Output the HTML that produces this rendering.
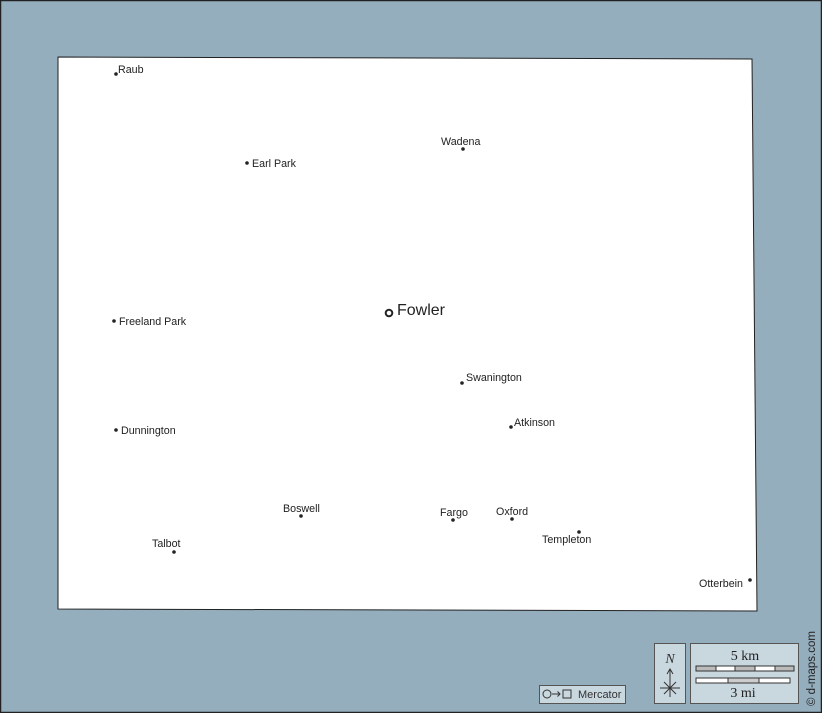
<!DOCTYPE html>
<html><head><meta charset="utf-8"><style>
html,body{margin:0;padding:0;}
body{width:822px;height:713px;overflow:hidden;background:#94aebd;}
svg{display:block;font-family:"Liberation Sans",Arial,sans-serif;}
</style></head><body>
<svg width="822" height="713" viewBox="0 0 822 713" xmlns="http://www.w3.org/2000/svg">
<rect x="0.5" y="0.5" width="821" height="712" fill="#94aebd" stroke="#222" stroke-width="1.5"/>
<polygon points="58,57 752,59 757,611 58,609" fill="#fff" stroke="#222" stroke-width="1"/>
<g fill="#222" font-size="10.7">
<circle cx="116" cy="74" r="1.8"/><text x="118" y="73">Raub</text>
<circle cx="247" cy="163" r="1.8"/><text x="252" y="167">Earl Park</text>
<circle cx="463" cy="149" r="1.8"/><text x="441" y="145">Wadena</text>
<circle cx="114" cy="321" r="1.8"/><text x="119" y="325">Freeland Park</text>
<circle cx="462" cy="383" r="1.8"/><text x="466" y="381">Swanington</text>
<circle cx="511" cy="427" r="1.8"/><text x="514" y="426">Atkinson</text>
<circle cx="116" cy="430" r="1.8"/><text x="121" y="434">Dunnington</text>
<circle cx="301" cy="516" r="1.8"/><text x="283" y="512">Boswell</text>
<circle cx="453" cy="520" r="1.8"/><text x="440" y="516">Fargo</text>
<circle cx="512" cy="519" r="1.8"/><text x="496" y="515">Oxford</text>
<circle cx="579" cy="532" r="1.8"/><text x="542" y="543">Templeton</text>
<circle cx="174" cy="552" r="1.8"/><text x="152" y="547">Talbot</text>
<circle cx="750" cy="580" r="1.8"/><text x="699" y="587">Otterbein</text>
</g>
<circle cx="389" cy="313" r="3.3" fill="none" stroke="#222" stroke-width="2"/>
<text x="397" y="315" font-size="16" fill="#222">Fowler</text>
<!-- legend -->
<rect x="539.5" y="685.5" width="86" height="18" fill="#c9d7df" stroke="#555"/>
<circle cx="547" cy="694" r="4" fill="none" stroke="#333"/>
<line x1="552" y1="694" x2="560" y2="694" stroke="#333"/>
<polyline points="557.5,691.5 560,694 557.5,696.5" fill="none" stroke="#333"/>
<rect x="563" y="690" width="8" height="8" fill="none" stroke="#333"/>
<text x="578" y="698" font-size="11" fill="#333">Mercator</text>
<rect x="654.5" y="643.5" width="31" height="60" fill="#c9d7df" stroke="#555"/>
<text x="670" y="663" font-size="14" font-style="italic" font-family="Liberation Serif,serif" text-anchor="middle" fill="#333">N</text>
<g stroke="#333" stroke-width="1" fill="none">
<line x1="670" y1="669" x2="670" y2="697"/>
<polyline points="667,674 670,669 673,674"/>
<line x1="660" y1="688" x2="680" y2="688"/>
<line x1="664" y1="682" x2="676" y2="694"/>
<line x1="676" y1="682" x2="664" y2="694"/>
</g>
<rect x="690.5" y="643.5" width="108" height="60" fill="#c9d7df" stroke="#555"/>
<text x="745" y="660" font-size="14" font-family="Liberation Serif,serif" text-anchor="middle" fill="#222">5 km</text>
<g stroke="#333" stroke-width="1">
<rect x="696" y="666" width="20" height="5" fill="#bbb"/>
<rect x="716" y="666" width="19" height="5" fill="#fff"/>
<rect x="735" y="666" width="20" height="5" fill="#bbb"/>
<rect x="755" y="666" width="20" height="5" fill="#fff"/>
<rect x="775" y="666" width="19" height="5" fill="#bbb"/>
<rect x="696" y="678" width="32" height="5" fill="#fff"/>
<rect x="728" y="678" width="31" height="5" fill="#ccc"/>
<rect x="759" y="678" width="31" height="5" fill="#fff"/>
</g>
<text x="743" y="697" font-size="14" font-family="Liberation Serif,serif" text-anchor="middle" fill="#222">3 mi</text>
<text transform="translate(815,706) rotate(-90)" font-size="11.5" fill="#222">© d-maps.com</text>
</svg>
</body></html>
